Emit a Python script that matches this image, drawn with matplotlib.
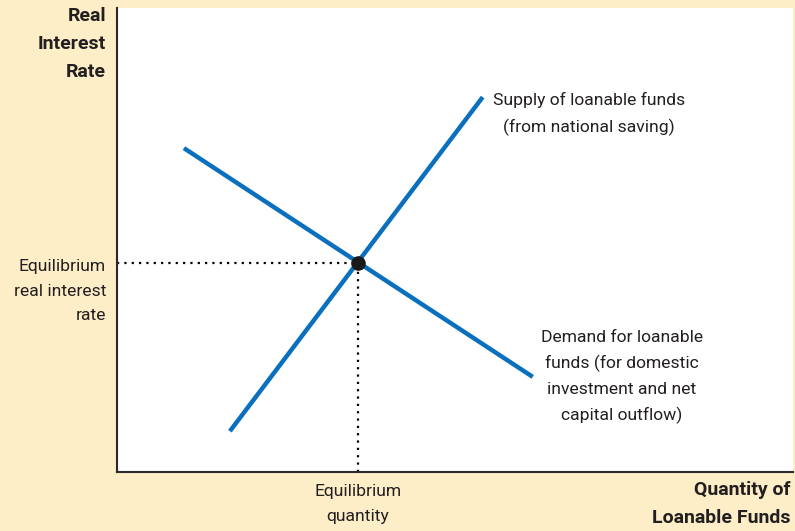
import matplotlib
matplotlib.use("Agg")
import matplotlib.pyplot as plt
from matplotlib import font_manager

names = {f.name for f in font_manager.fontManager.ttflist}
FONT = "Roboto" if "Roboto" in names else "DejaVu Sans"

# Data (arbitrary units 0..100)
supply_x = [16.7, 54.1]
supply_y = [8.8, 80.8]
demand_x = [9.9, 61.5]
demand_y = [69.8, 20.5]
eq_x = 35.65
eq_y = 45.0

BLUE = "#0A70BE"
BG = "#FDEEC8"

fig = plt.figure(figsize=(7.95, 5.31), dpi=100, facecolor=BG)
W, H = 795, 531
L, R, T, B = 117, 793, 8, 472
ax = fig.add_axes([L / W, 1 - B / H, (R - L) / W, (B - T) / H])
ax.set_facecolor("white")
ax.set_xlim(0, 100)
ax.set_ylim(0, 100)
for s in ["top", "right"]:
    ax.spines[s].set_visible(False)
for s in ["left", "bottom"]:
    ax.spines[s].set_color("#2a2a2a")
    ax.spines[s].set_linewidth(1.5)
ax.set_xticks([])
ax.set_yticks([])

ax.plot([0, eq_x], [eq_y, eq_y], color="black", linestyle=(0, (1, 2.3)), linewidth=1.6, zorder=1)
ax.plot([eq_x, eq_x], [0, eq_y], color="black", linestyle=(0, (1, 2.3)), linewidth=1.6, zorder=1)
ax.plot(supply_x, supply_y, color=BLUE, linewidth=3.2, solid_capstyle="butt", zorder=2)
ax.plot(demand_x, demand_y, color=BLUE, linewidth=3.2, solid_capstyle="butt", zorder=2)
ax.plot([eq_x], [eq_y], "o", color="#1a1a1a", markersize=9.5, zorder=3)

def ftxt(x, y, s, ha="center", bold=False):
    fig.text(x / W, 1 - y / H, s, ha=ha, va="center",
             fontsize=14 if bold else 12.6,
             family=FONT, fontweight="bold" if bold else "normal",
             color="#231f20", linespacing=1.73 if bold else 1.78)

ftxt(106, 44, "Real\nInterest\nRate", ha="right", bold=True)
ftxt(106, 291, "Equilibrium\nreal interest\nrate", ha="right")
ftxt(358, 504, "Equilibrium\nquantity")
ftxt(791, 504, "Quantity of\nLoanable Funds", ha="right", bold=True)
ftxt(589, 114, "Supply of loanable funds\n(from national saving)")
ftxt(622, 377, "Demand for loanable\nfunds (for domestic\ninvestment and net\ncapital outflow)")

fig.savefig("out.png", dpi=100, facecolor=BG)
